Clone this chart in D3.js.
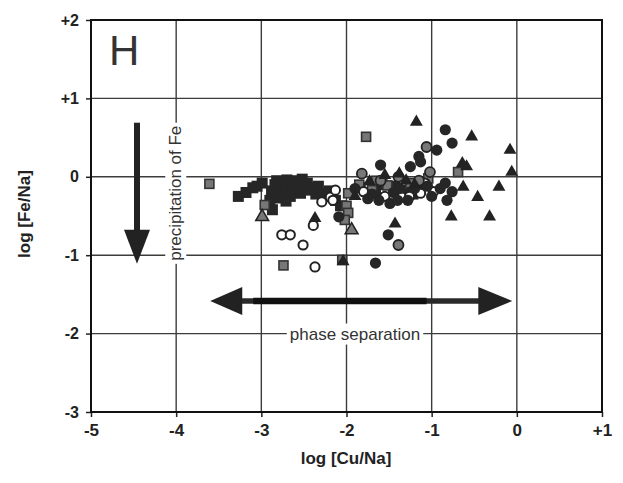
<!DOCTYPE html>
<html><head><meta charset="utf-8">
<script src="https://cdn.jsdelivr.net/npm/d3@7"></script>
<style>body{margin:0;background:#fff}svg{display:block}</style>
</head><body>
<svg id="c" width="623" height="483"></svg>
<script>
const xTicks = [-5,-4,-3,-2,-1,0,1];
const xTickLabels = ["-5","-4","-3","-2","-1","0","+1"];
const yTicks = [-3,-2,-1,0,1,2];
const yTickLabels = ["-3","-2","-1","0","+1","+2"];

const blackSquares = [[-3.27,-0.25],[-3.18,-0.20],[-3.10,-0.14],[-3.05,-0.12],[-2.88,-0.18],[-2.82,-0.05],[-2.74,-0.11],[-2.70,-0.04],[-2.64,-0.12],[-2.58,-0.05],[-2.52,-0.03],[-2.46,-0.08],[-2.40,-0.14],[-2.33,-0.12],[-2.29,-0.21],[-2.54,-0.21],[-2.66,-0.25],[-2.78,-0.27],[-2.71,-0.31],[-2.24,-0.25],[-2.13,-0.30],[-2.07,-0.37],[-2.87,-0.42],[-2.90,-0.30],[-2.99,-0.08],[-2.60,-0.16],[-2.48,-0.17],[-2.36,-0.22],[-2.76,-0.17],[-2.84,-0.10],[-2.20,-0.18],[-1.84,-0.14],[-1.66,-0.20],[-1.43,-0.12],[-1.31,-0.17],[-1.16,-0.14],[-1.58,-0.10],[-1.22,-0.22]];
const graySquares = [[-3.61,-0.09],[-1.77,0.51],[-2.74,-1.13],[-2.05,-1.06],[-1.98,-0.21],[-2.00,-0.37],[-1.98,-0.46],[-2.02,-0.55],[-2.96,-0.36],[-1.52,-0.11],[-1.70,-0.17],[-1.25,-0.08],[-1.04,-0.02],[-0.69,0.06],[-1.85,-0.10],[-1.65,-0.05]];
const openCircles = [[-2.76,-0.74],[-2.66,-0.74],[-2.51,-0.87],[-2.37,-1.15],[-2.29,-0.32],[-2.19,-0.26],[-2.39,-0.62],[-2.13,-0.17],[-2.16,-0.30],[-1.35,-0.26],[-1.13,-0.21],[-0.98,-0.19],[-1.80,-0.19],[-1.55,-0.25],[-1.26,-0.25],[-1.08,-0.08]];
const filledCircles = [[-0.84,0.60],[-0.76,0.43],[-1.15,0.26],[-1.13,0.19],[-1.60,0.15],[-1.25,0.13],[-0.94,0.34],[-1.49,-0.34],[-1.51,-0.74],[-1.66,-1.10],[-0.84,-0.08],[-0.76,-0.19],[-0.82,-0.30],[-2.09,-0.51],[-0.90,-0.15],[-1.70,-0.22],[-1.45,-0.20],[-1.20,-0.15],[-1.00,-0.25],[-1.75,-0.28],[-1.90,-0.15],[-1.62,-0.30],[-1.38,-0.15],[-1.28,-0.30],[-1.05,-0.12],[-1.40,-0.30]];
const grayCircles = [[-1.82,0.04],[-1.06,0.38],[-1.02,0.06],[-1.39,0.00],[-1.39,-0.87],[-1.60,-0.05],[-1.15,-0.05]];
const blackTriangles = [[-1.18,0.70],[-0.53,0.51],[-0.08,0.34],[-0.06,0.06],[-0.64,0.17],[-0.59,0.13],[-0.63,-0.13],[-0.46,-0.26],[-0.21,-0.13],[-0.77,-0.51],[-0.32,-0.51],[-1.43,-0.60],[-2.37,-0.53],[-1.38,0.04],[-1.73,-0.06],[-2.04,-1.08],[-1.20,-0.10],[-1.90,-0.25],[-1.55,0.02],[-1.30,-0.05]];
const grayTriangles = [[-2.99,-0.51],[-1.94,-0.68]];

const downArrow = {x:-4.46, y0:0.69, y1:-1.11};
const sideArrow = {y:-1.585, x0:-3.60, x1:-0.053};

const svg = d3.select("#c");
const L=91, R=602, T=20, B=412;
const x = d3.scaleLinear().domain([-5,1]).range([L,R]);
const y = d3.scaleLinear().domain([-3,2]).range([B,T]);
const gridC = "#3c3c3c";

svg.append("g").selectAll("line").data(xTicks.slice(1,-1)).join("line")
  .attr("x1",d=>x(d)).attr("x2",d=>x(d)).attr("y1",T).attr("y2",B)
  .attr("stroke",gridC).attr("stroke-width",1.4);
svg.append("g").selectAll("line").data(yTicks.slice(1,-1)).join("line")
  .attr("y1",d=>y(d)).attr("y2",d=>y(d)).attr("x1",L).attr("x2",R)
  .attr("stroke",gridC).attr("stroke-width",1.4);

const xAxis = svg.append("g").attr("transform",`translate(0,${B})`)
  .call(d3.axisBottom(x).tickValues(xTicks).tickFormat((d,i)=>xTickLabels[i]).tickSize(5).tickPadding(7));
const yAxis = svg.append("g").attr("transform",`translate(${L},0)`)
  .call(d3.axisLeft(y).tickValues(yTicks).tickFormat((d,i)=>yTickLabels[i]).tickSize(5).tickPadding(7));
[xAxis,yAxis].forEach(g=>{
  g.select(".domain").remove();
  g.selectAll("line").attr("stroke","#222").attr("stroke-width",1.5);
  g.selectAll("text").attr("fill","#222").style("font-family","Liberation Sans, Arial, sans-serif")
   .style("font-weight","bold").style("font-size","16px");
});
xAxis.selectAll("text").style("font-size","17px");

svg.append("rect").attr("x",L).attr("y",T).attr("width",R-L).attr("height",B-T)
  .attr("fill","none").attr("stroke","#111").attr("stroke-width",2);

svg.append("text").attr("x",346).attr("y",464).attr("text-anchor","middle")
  .style("font-family","Liberation Sans, Arial, sans-serif").style("font-weight","bold").style("font-size","17px")
  .attr("fill","#222").text("log [Cu/Na]");
svg.append("text").attr("transform","translate(30,214) rotate(-90)").attr("text-anchor","middle")
  .style("font-family","Liberation Sans, Arial, sans-serif").style("font-weight","bold").style("font-size","17px")
  .attr("fill","#222").text("log [Fe/Na]");

svg.append("text").attr("x",109).attr("y",65)
  .style("font-family","Liberation Sans, Arial, sans-serif").style("font-size","42px")
  .attr("fill","#333").text("H");

function boxedLabel(tx,ty,rot,txt){
  const g = svg.append("g").attr("transform",`translate(${tx},${ty}) rotate(${rot})`);
  const t = g.append("text").attr("text-anchor","middle").attr("dy","0.35em")
    .style("font-family","Liberation Sans, Arial, sans-serif").style("font-size","17px")
    .attr("fill","#333").text(txt);
  const bb = t.node().getBBox();
  g.insert("rect","text").attr("x",bb.x-3).attr("y",bb.y-1).attr("width",bb.width+6).attr("height",bb.height+2).attr("fill","#fff");
}
boxedLabel(x(-4.01), y(-0.21), -90, "precipitation of Fe");
boxedLabel(x(-1.9), y(-2.0), 0, "phase separation");

const ax = x(downArrow.x);
svg.append("line").attr("x1",ax).attr("x2",ax).attr("y1",y(downArrow.y0)).attr("y2",y(downArrow.y1)-30)
  .attr("stroke","#222").attr("stroke-width",6);
svg.append("path").attr("d",`M${ax-13},${y(downArrow.y1)-34}L${ax+13},${y(downArrow.y1)-34}L${ax},${y(downArrow.y1)}Z`).attr("fill","#222");

const ay = y(sideArrow.y), lx = x(sideArrow.x0), rx = x(sideArrow.x1);
svg.append("line").attr("x1",lx+28).attr("x2",rx-30).attr("y1",ay).attr("y2",ay).attr("stroke","#2a2a2a").attr("stroke-width",5.5);
svg.append("line").attr("x1",lx+43).attr("x2",x(-1.06)).attr("y1",ay).attr("y2",ay).attr("stroke","#111").attr("stroke-width",6.5);
svg.append("path").attr("d",`M${lx},${ay}L${lx+32},${ay-14}L${lx+32},${ay+14}Z`).attr("fill","#222");
svg.append("path").attr("d",`M${rx},${ay}L${rx-34},${ay-14}L${rx-34},${ay+14}Z`).attr("fill","#222");

const pts = svg.append("g");
pts.selectAll(".bs").data(blackSquares).join("rect").attr("class","bs")
  .attr("x",d=>x(d[0])-5.5).attr("y",d=>y(d[1])-5.5).attr("width",11).attr("height",11).attr("fill","#262626");
pts.selectAll(".gs").data(graySquares).join("rect").attr("class","gs")
  .attr("x",d=>x(d[0])-4.5).attr("y",d=>y(d[1])-4.5).attr("width",9).attr("height",9)
  .attr("fill","#777").attr("stroke","#333").attr("stroke-width",1.6);
pts.selectAll(".oc").data(openCircles).join("circle").attr("class","oc")
  .attr("cx",d=>x(d[0])).attr("cy",d=>y(d[1])).attr("r",4.6)
  .attr("fill","#fff").attr("stroke","#222").attr("stroke-width",2);
pts.selectAll(".fc").data(filledCircles).join("circle").attr("class","fc")
  .attr("cx",d=>x(d[0])).attr("cy",d=>y(d[1])).attr("r",5.6).attr("fill","#262626");
pts.selectAll(".gc").data(grayCircles).join("circle").attr("class","gc")
  .attr("cx",d=>x(d[0])).attr("cy",d=>y(d[1])).attr("r",5)
  .attr("fill","#777").attr("stroke","#222").attr("stroke-width",1.8);
const tri = d3.symbol().type(d3.symbolTriangle).size(72);
pts.selectAll(".bt").data(blackTriangles).join("path").attr("class","bt")
  .attr("transform",d=>`translate(${x(d[0])},${y(d[1])})`).attr("d",tri).attr("fill","#222");
pts.selectAll(".gt").data(grayTriangles).join("path").attr("class","gt")
  .attr("transform",d=>`translate(${x(d[0])},${y(d[1])})`).attr("d",tri)
  .attr("fill","#777").attr("stroke","#222").attr("stroke-width",1.5);
</script>
</body></html>
